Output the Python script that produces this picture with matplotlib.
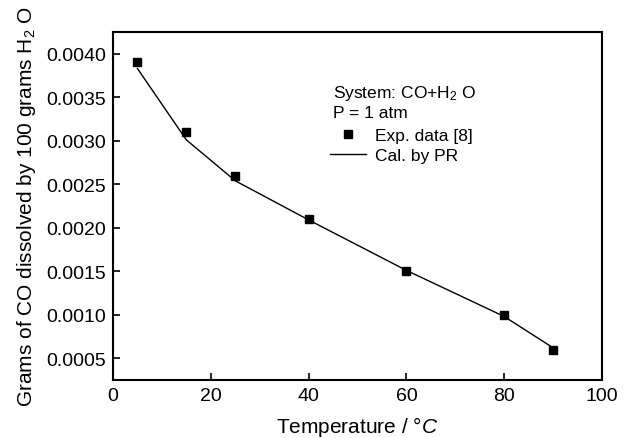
import matplotlib.pyplot as plt

plt.rcParams['font.family'] = ['Liberation Sans', 'DejaVu Sans']
plt.rcParams['mathtext.fontset'] = 'custom'
plt.rcParams['mathtext.rm'] = 'Liberation Sans'
plt.rcParams['mathtext.it'] = 'Liberation Sans:italic'

# Experimental data [8]
exp_t = [5, 15, 25, 40, 60, 80, 90]
exp_s = [0.0039, 0.0031, 0.0026, 0.0021, 0.0015, 0.0010, 0.0006]

# PR calculation
cal_t = [5, 15, 25, 40, 60, 80, 90]
cal_s = [0.00383, 0.00301, 0.00254, 0.00209, 0.00151, 0.00098, 0.00062]

x_ticks = [0, 20, 40, 60, 80, 100]
y_ticks = [0.0005, 0.0010, 0.0015, 0.0020, 0.0025, 0.0030, 0.0035, 0.0040]

fig = plt.figure(figsize=(6.32, 4.39), dpi=100)
ax = fig.add_axes([113/632, 1 - 381/439, (602-113)/632, (381-33)/439])

ax.plot(cal_t, cal_s, color='black', lw=1.0, label='Cal. by PR')
ax.plot(exp_t, exp_s, 's', color='black', ms=6, label='Exp. data [8]')

ax.set_xlim(0, 100)
ax.set_ylim(0.00025, 0.00425)
ax.set_xticks(x_ticks)
ax.set_yticks(y_ticks)
ax.set_yticklabels(['%.4f' % v for v in y_ticks])
ax.tick_params(direction='in', length=5, width=1.2, labelsize=14, pad=5,
               top=False, right=False)
for s in ax.spines.values():
    s.set_linewidth(1.5)

ax.set_xlabel('Temperature / °$\\it{C}$', fontsize=15, labelpad=7)
ax.set_ylabel('Grams of CO dissolved by 100 grams H$_2$ O', fontsize=15, labelpad=6)

ax.text(45, 0.00356, 'System: CO+H$_2$ O', fontsize=12.5, va='center')
ax.text(45, 0.00333, 'P = 1 atm', fontsize=12.5, va='center')

h, l = ax.get_legend_handles_labels()
ax.legend([h[1], h[0]], [l[1], l[0]], loc='upper left',
          bbox_to_anchor=(0.425, 0.75), frameon=False, fontsize=12.5,
          handlelength=2.1, handletextpad=0.5, borderpad=0, labelspacing=0.3,
          markerscale=0.85)

fig.savefig('out.png', dpi=100)
